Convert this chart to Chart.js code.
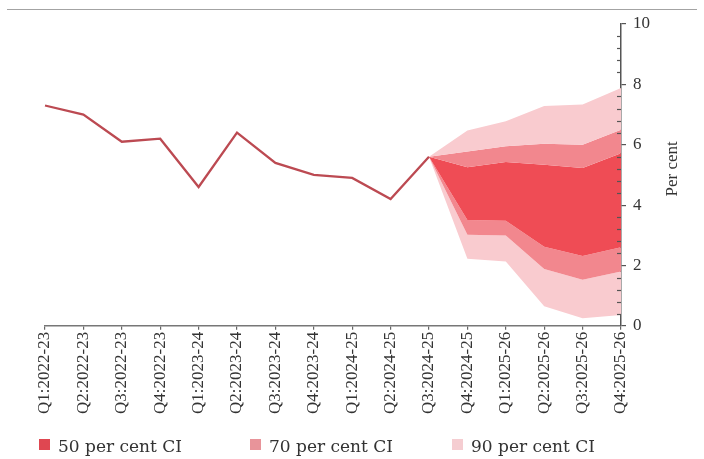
<!DOCTYPE html>
<html>
<head>
<meta charset="utf-8">
<script src="https://cdn.jsdelivr.net/npm/chart.js@4.4.1/dist/chart.umd.min.js"></script>
<style>
  html, body { margin: 0; padding: 0; background: #fff; }
  #wrap { position: relative; width: 704px; height: 459px; overflow: hidden; }
  #rule { position: absolute; left: 7px; top: 9px; width: 690px; height: 0; border-top: 1.5px solid #a3a3a3; }
  canvas { position: absolute; left: 0; top: 0; }
  .lg { position: absolute; top: 436px; height: 17px; line-height: 17px; font: 17px "DejaVu Serif", serif; color: #333; white-space: nowrap; }
  .lg i { position: absolute; top: 3px; width: 11px; height: 11px; }
  .lg span { position: absolute; top: 0; }
</style>
</head>
<body>
<div id="wrap">
  <div id="rule"></div>
  <canvas id="c" width="704" height="459"></canvas>
</div>
<script>
// Quarterly CPI inflation (per cent), actuals followed by projection bands
const quarters = [
  'Q1:2022-23', 'Q2:2022-23', 'Q3:2022-23', 'Q4:2022-23',
  'Q1:2023-24', 'Q2:2023-24', 'Q3:2023-24', 'Q4:2023-24',
  'Q1:2024-25', 'Q2:2024-25', 'Q3:2024-25', 'Q4:2024-25',
  'Q1:2025-26', 'Q2:2025-26', 'Q3:2025-26', 'Q4:2025-26'
];
const actual = [7.3, 7.0, 6.1, 6.2, 4.6, 6.4, 5.4, 5.0, 4.9, 4.2, 5.6, null, null, null, null, null];

// Confidence-interval bounds, starting from the last actual quarter
const upper90 = [null, null, null, null, null, null, null, null, null, null, 5.6, 6.47, 6.78, 7.28, 7.33, 7.88];
const upper70 = [null, null, null, null, null, null, null, null, null, null, 5.6, 5.78, 5.95, 6.03, 6.00, 6.50];
const upper50 = [null, null, null, null, null, null, null, null, null, null, 5.6, 5.25, 5.43, 5.34, 5.23, 5.72];
const lower50 = [null, null, null, null, null, null, null, null, null, null, 5.6, 3.51, 3.48, 2.62, 2.31, 2.60];
const lower70 = [null, null, null, null, null, null, null, null, null, null, 5.6, 3.02, 2.99, 1.88, 1.53, 1.80];
const lower90 = [null, null, null, null, null, null, null, null, null, null, 5.6, 2.22, 2.13, 0.65, 0.25, 0.36];

const yTicks = [0, 2, 4, 6, 8, 10];
const bandNames = ['50 per cent CI', '70 per cent CI', '90 per cent CI'];
const bandColors = ['#ef4c55', '#f2878e', '#f9cbcf'];
const legendColors = ['#df4751', '#e8949a', '#f5cdd1'];

const FONT = '"Liberation Serif", serif';

function bound(data, fillTo, color) {
  return {
    data: data,
    borderWidth: 0,
    pointRadius: 0,
    pointHoverRadius: 0,
    fill: fillTo,
    backgroundColor: color,
    borderColor: 'rgba(0,0,0,0)',
    tension: 0
  };
}

// Minor ticks and the rotated axis title on the right-hand scale
const axisExtras = {
  id: 'axisExtras',
  afterDraw(chart) {
    const y = chart.scales.y;
    const ctx = chart.ctx;
    const x0 = y.left;
    ctx.save();
    ctx.strokeStyle = '#555';
    ctx.lineWidth = 1.2;
    for (let i = 0; i <= 25; i++) {
      if (i % 5 === 0) continue;
      const py = Math.round(y.getPixelForValue(i * 0.4)) + 0.5;
      ctx.beginPath();
      ctx.moveTo(x0 - 4, py);
      ctx.lineTo(x0, py);
      ctx.stroke();
    }
    ctx.translate(x0 + 52, (y.top + y.bottom) / 2 - 6);
    ctx.rotate(-Math.PI / 2);
    ctx.fillStyle = '#333';
    ctx.font = '17px ' + FONT;
    ctx.textAlign = 'center';
    ctx.textBaseline = 'middle';
    ctx.fillText('Per cent', 0, 0);
    ctx.restore();
  }
};

new Chart(document.getElementById('c'), {
  type: 'line',
  data: {
    labels: quarters,
    datasets: [
      {
        data: actual,
        borderColor: '#bc4a52',
        borderWidth: 2.3,
        pointRadius: 0,
        fill: false,
        tension: 0
      },
      bound(upper90, '+1', bandColors[2]),
      bound(upper70, '+1', bandColors[1]),
      bound(upper50, '+1', bandColors[0]),
      bound(lower50, '+1', bandColors[1]),
      bound(lower70, '+1', bandColors[2]),
      bound(lower90, false, bandColors[2])
    ]
  },
  options: {
    responsive: false,
    animation: false,
    layout: { padding: { left: 45, right: 47, top: 24, bottom: 43 } },
    plugins: {
      legend: { display: false },
      tooltip: { enabled: false },
      filler: { propagate: false }
    },
    scales: {
      x: {
        offset: false,
        grid: { drawOnChartArea: false, drawTicks: true, tickLength: 4, color: '#666', lineWidth: 1.2 },
        border: { color: '#777', width: 1.5 },
        ticks: {
          autoSkip: false,
          maxRotation: 90,
          minRotation: 90,
          padding: 2,
          color: '#333',
          font: { family: FONT, size: 17 }
        }
      },
      y: {
        position: 'right',
        min: 0,
        max: 10,
        afterBuildTicks(scale) { scale.ticks = yTicks.map(v => ({ value: v })); },
        grid: { drawOnChartArea: false, drawTicks: true, tickLength: 5, color: '#555', lineWidth: 1.2 },
        border: { color: '#555', width: 1.5 },
        ticks: {
          padding: 7,
          color: '#333',
          font: { family: FONT, size: 17 }
        }
      }
    }
  },
  plugins: [axisExtras]
});

// Legend row
const wrap = document.getElementById('wrap');
const legendLeft = [39, 250, 452];
bandNames.forEach((name, i) => {
  const el = document.createElement('div');
  el.className = 'lg';
  el.style.left = legendLeft[i] + 'px';
  el.innerHTML = '<i style="left:0;background:' + legendColors[i] + '"></i><span style="left:19px">' + name + '</span>';
  wrap.appendChild(el);
});
</script>
</body>
</html>
